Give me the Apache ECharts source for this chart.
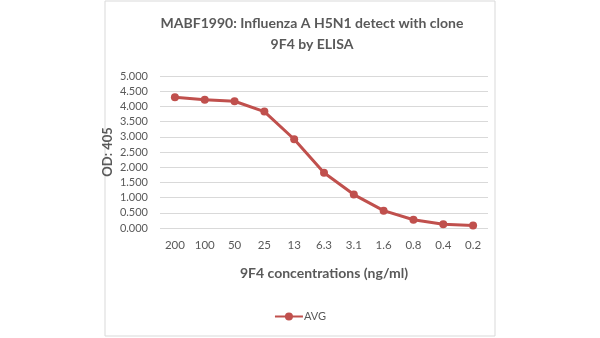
<!DOCTYPE html>
<html>
<head>
<meta charset="utf-8">
<script src="https://cdn.jsdelivr.net/npm/echarts@6/dist/echarts.min.js"></script>
<style>
  html, body { margin: 0; padding: 0; background: #fff; }
  #chart { width: 600px; height: 338px; }
</style>
</head>
<body>
<div id="chart"></div>
<script>
// Antibody concentrations (ng/ml) and averaged OD 405 readings
const concentrations = ['200', '100', '50', '25', '13', '6.3', '3.1', '1.6', '0.8', '0.4', '0.2'];
const avgOD = [4.30, 4.22, 4.17, 3.83, 2.92, 1.82, 1.10, 0.57, 0.27, 0.12, 0.08];

const FONT = 'Lato, "Open Sans", sans-serif';
const TEXT = '#595959';
const RED = '#c0504d';

const chart = echarts.init(document.getElementById('chart'), null, { renderer: 'canvas' });
chart.setOption({
  animation: false,
  backgroundColor: '#fff',
  graphic: [{
    type: 'rect',
    shape: { x: 105, y: 1, width: 390, height: 335 },
    style: { fill: 'none', stroke: '#d9d9d9', lineWidth: 1 },
    silent: true
  }],
  title: {
    text: 'MABF1990: Influenza A H5N1 detect with clone\n9F4 by ELISA',
    left: 307,
    textAlign: 'center',
    top: 8,
    textStyle: { fontFamily: FONT, fontSize: 14, fontWeight: 'bold', color: TEXT, lineHeight: 21 }
  },
  legend: {
    data: ['AVG'],
    bottom: 11,
    left: 'center',
    itemWidth: 28,
    itemHeight: 10,
    itemGap: 4,
    textStyle: { fontFamily: FONT, fontSize: 11, color: TEXT, padding: [0, 0, 0, -4] }
  },
  grid: { left: 160, right: 112, top: 76, bottom: 110 },
  xAxis: {
    type: 'category',
    data: concentrations,
    boundaryGap: true,
    axisLine: { show: false },
    axisTick: { show: false },
    axisLabel: { fontFamily: FONT, fontSize: 11.5, color: TEXT, margin: 11 },
    name: '9F4 concentrations (ng/ml)',
    nameLocation: 'middle',
    nameGap: 38,
    nameTextStyle: { fontFamily: FONT, fontSize: 14, fontWeight: 'bold', color: TEXT }
  },
  yAxis: {
    type: 'value',
    min: 0,
    max: 5,
    interval: 0.5,
    axisLine: { show: false },
    axisTick: { show: false },
    splitLine: { lineStyle: { color: '#d9d9d9', width: 1 } },
    axisLabel: {
      fontFamily: FONT, fontSize: 11, color: TEXT, margin: 12,
      formatter: v => v.toFixed(3)
    },
    name: 'OD: 405',
    nameLocation: 'middle',
    nameRotate: 90,
    nameGap: 46,
    nameMoveOverlap: false,
    nameTextStyle: { fontFamily: FONT, fontSize: 13, fontWeight: 'bold', color: TEXT }
  },
  series: [{
    name: 'AVG',
    type: 'line',
    data: avgOD,
    symbol: 'circle',
    symbolSize: 8,
    lineStyle: { color: RED, width: 3 },
    itemStyle: { color: RED }
  }]
});
</script>
</body>
</html>
